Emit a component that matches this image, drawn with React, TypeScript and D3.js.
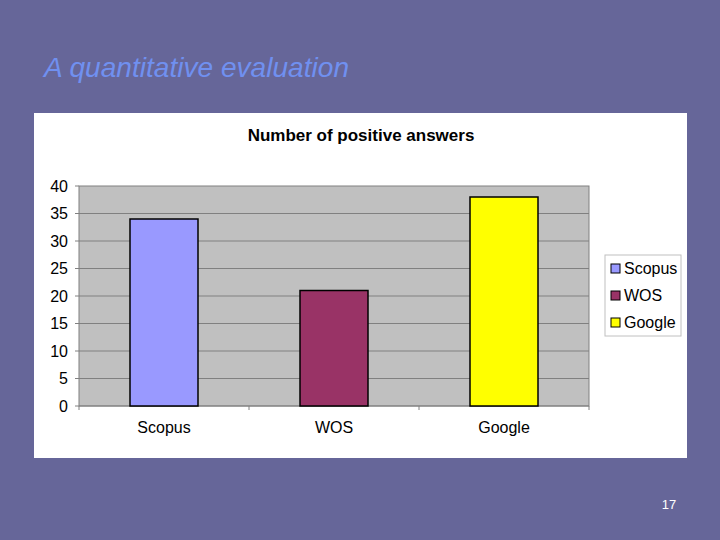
import React from "react";
import * as d3 from "d3";

const categories = ["Scopus", "WOS", "Google"];
const values = [34, 21, 38];
const colors = ["#9999ff", "#993366", "#ffff00"];
const yTicks = [0, 5, 10, 15, 20, 25, 30, 35, 40];

export default function App() {
  const W = 720, H = 540;
  const plot = { x0: 79, x1: 589, y0: 186, y1: 406 };
  const x = d3.scaleBand<string>().domain(categories).range([plot.x0, plot.x1]).paddingInner(0.6).paddingOuter(0.3);
  const xb = d3.scaleBand<string>().domain(categories).range([plot.x0, plot.x1]);
  const y = d3.scaleLinear().domain([0, 40]).range([plot.y1, plot.y0]);
  const font = "Liberation Sans, Arial, sans-serif";
  return (
    <svg width={W} height={H} style={{ position: "absolute", left: 0, top: 0 }} fontFamily={font}>
      <rect x={0} y={0} width={W} height={H} fill="#666699" />
      <text x={44} y={77} fontSize={28} fontStyle="italic" fill="#7090f0" textLength={305} lengthAdjust="spacingAndGlyphs">A quantitative evaluation</text>
      <rect x={34} y={113} width={653} height={345} fill="#ffffff" />
      <text x={361} y={141} fontSize={17} fontWeight="bold" textAnchor="middle" fill="#000">Number of positive answers</text>
      <rect x={plot.x0} y={plot.y0} width={plot.x1 - plot.x0} height={plot.y1 - plot.y0} fill="#c0c0c0" stroke="#808080" strokeWidth={1} />
      {yTicks.map((t) => (
        <g key={t}>
          {t > 0 && t < 40 && <line x1={plot.x0} x2={plot.x1} y1={y(t)} y2={y(t)} stroke="#808080" strokeWidth={1} />}
          <line x1={plot.x0 - 4} x2={plot.x0} y1={y(t)} y2={y(t)} stroke="#808080" />
          <text x={68} y={y(t) + 5.5} fontSize={16} textAnchor="end" fill="#000">{t}</text>
        </g>
      ))}
      <line x1={plot.x0} x2={plot.x1} y1={plot.y1} y2={plot.y1} stroke="#808080" />
      {categories.map((c, i) => (
        <g key={c}>
          <line x1={xb(c)!} x2={xb(c)!} y1={plot.y1} y2={plot.y1 + 4} stroke="#808080" />
          <rect x={x(c)!} y={y(values[i])} width={x.bandwidth()} height={plot.y1 - y(values[i])} fill={colors[i]} stroke="#000" strokeWidth={1.5} />
          <text x={xb(c)! + xb.bandwidth() / 2} y={433} fontSize={16} textAnchor="middle" fill="#000">{c}</text>
        </g>
      ))}
      <line x1={plot.x1} x2={plot.x1} y1={plot.y1} y2={plot.y1 + 4} stroke="#808080" />
      <rect x={605} y={255} width={76} height={81} fill="#ffffff" stroke="#c0c0c0" />
      {categories.map((c, i) => (
        <g key={c}>
          <rect x={611} y={264 + i * 27} width={9} height={9} fill={colors[i]} stroke="#000" />
          <text x={624} y={274 + i * 27} fontSize={16} fill="#000">{c}</text>
        </g>
      ))}
      <text x={669} y={509} fontSize={13} textAnchor="middle" fill="#ffffff">17</text>
    </svg>
  );
}
